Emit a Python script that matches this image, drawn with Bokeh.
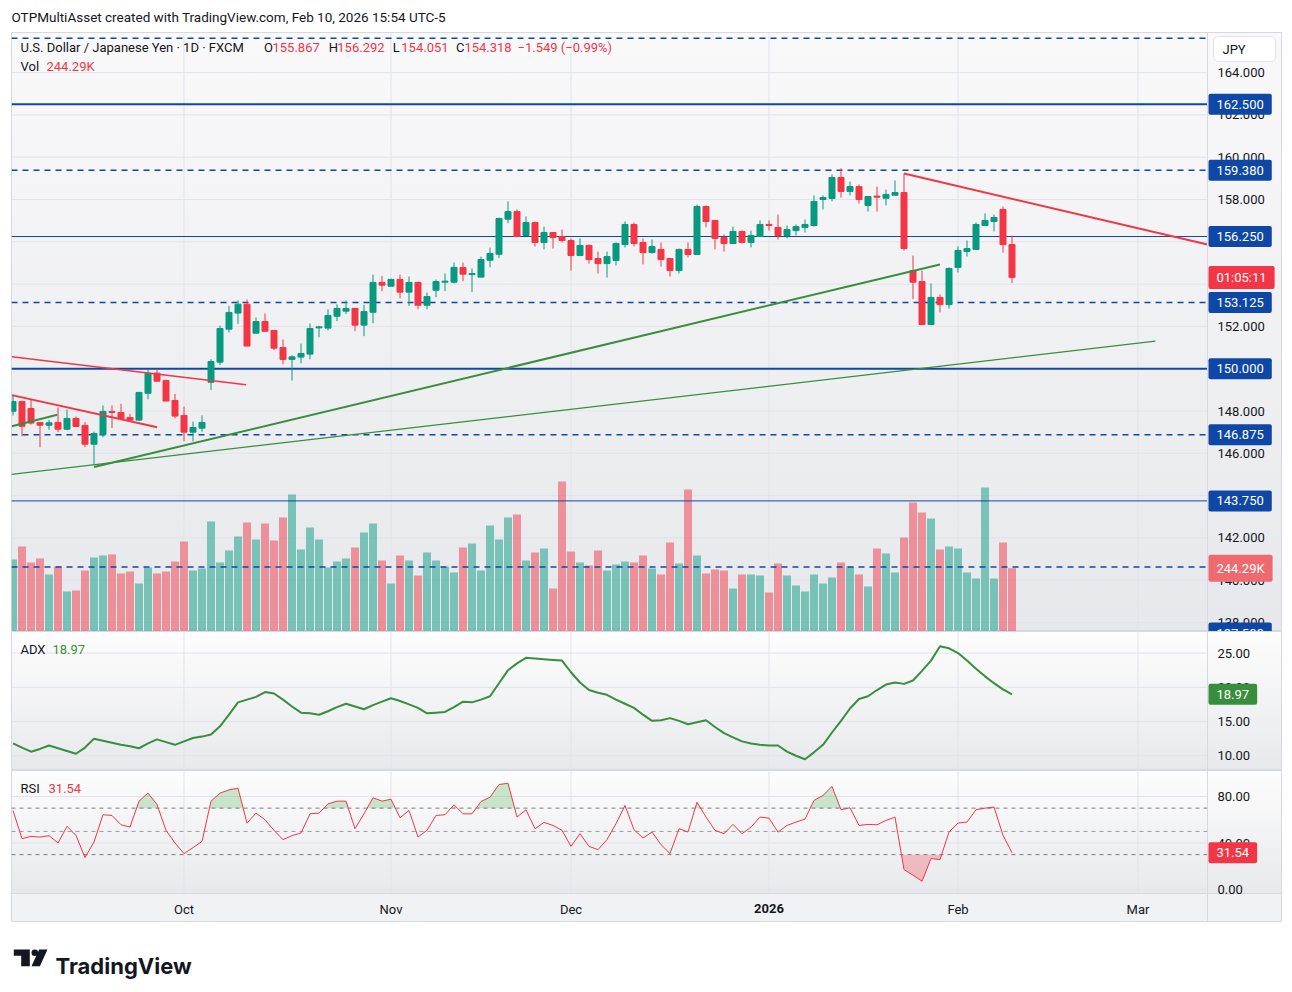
from bokeh.plotting import figure
from bokeh.layouts import column
from bokeh.models import (Range1d, FixedTicker, Label, ColumnDataSource,
                          NumeralTickFormatter, LinearAxis)
from bokeh.embed import file_html
from bokeh.resources import INLINE

# ---------------------------------------------------------------- data
# USD/JPY daily bars, Sep 4 2025 .. Feb 10 2026 (FXCM)
opens = [
    147.99, 148.45, 148.12, 147.46, 147.33, 147.46, 147.14, 147.65, 147.32, 146.43,
    146.90, 147.98, 147.93, 147.69, 147.57, 148.84, 149.79, 149.44, 148.50, 147.79,
    147.00, 147.19, 149.36, 150.31, 151.87, 152.63, 153.05, 151.68, 152.23, 151.81,
    151.00, 150.44, 150.55, 150.69, 151.93, 151.92, 152.48, 152.72, 152.85, 152.06,
    152.67, 154.08, 153.90, 154.22, 153.62, 154.08, 153.00, 153.71, 154.09, 154.09,
    154.78, 154.45, 154.33, 155.13, 155.41, 157.07, 157.43, 156.30, 156.91, 155.97,
    156.44, 156.25, 156.06, 155.35, 155.83, 155.21, 154.97, 155.12, 155.87, 156.82,
    155.97, 155.49, 155.64, 155.21, 154.64, 155.64, 155.40, 157.67, 157.01, 156.20,
    155.92, 156.49, 155.97, 156.25, 156.82, 156.68, 156.30, 156.53, 156.68, 156.77,
    158.00, 158.05, 159.04, 158.38, 158.61, 157.72, 158.16, 158.06, 158.20, 158.33,
    154.64, 154.12, 152.09, 153.37, 153.03, 154.79, 155.54, 155.64, 156.77, 156.96,
    157.53, 155.867]
highs = [
    148.73, 148.49, 148.53, 147.47, 147.58, 148.17, 148.07, 147.74, 147.47, 147.03,
    148.26, 148.26, 148.34, 147.87, 148.88, 149.95, 149.96, 149.49, 148.81, 148.21,
    147.50, 147.79, 150.45, 152.04, 152.97, 153.23, 153.27, 152.42, 152.61, 151.81,
    151.38, 150.64, 151.19, 152.14, 152.03, 152.81, 153.04, 153.22, 152.87, 153.02,
    154.45, 154.39, 154.26, 154.45, 154.36, 154.12, 153.60, 154.22, 154.50, 155.02,
    155.02, 154.74, 155.30, 155.73, 157.15, 157.91, 157.53, 157.20, 156.96, 156.72,
    156.44, 156.58, 156.16, 156.16, 155.87, 155.54, 155.54, 155.97, 156.96, 156.91,
    156.16, 156.11, 155.97, 155.21, 155.68, 155.97, 157.76, 157.72, 157.01, 156.35,
    156.72, 156.53, 156.53, 157.01, 157.01, 157.29, 156.77, 156.82, 157.05, 158.19,
    158.19, 159.18, 159.47, 158.85, 158.71, 158.14, 158.61, 158.47, 158.90, 159.23,
    155.35, 154.64, 154.03, 153.51, 154.79, 155.78, 156.06, 156.91, 157.34, 157.29,
    157.67, 156.292]
lows = [
    147.79, 146.81, 147.36, 146.29, 147.11, 147.00, 147.09, 147.24, 146.29, 145.47,
    146.76, 147.19, 147.60, 147.54, 147.52, 148.56, 149.41, 148.47, 147.66, 146.57,
    146.57, 147.02, 148.99, 150.17, 151.71, 152.12, 151.07, 151.68, 151.77, 150.88,
    150.21, 149.44, 150.26, 150.45, 151.49, 151.82, 152.25, 152.58, 151.77, 151.54,
    152.15, 153.67, 153.90, 153.33, 152.97, 152.81, 152.81, 153.38, 153.67, 154.03,
    154.14, 153.62, 154.33, 154.80, 155.23, 156.88, 156.22, 156.30, 155.78, 155.64,
    155.68, 155.97, 154.64, 155.35, 154.97, 154.50, 154.31, 154.88, 155.73, 155.78,
    154.93, 155.45, 154.83, 154.36, 154.50, 155.26, 155.40, 156.68, 155.64, 155.54,
    155.92, 155.92, 155.73, 156.25, 156.53, 156.11, 156.16, 156.30, 156.44, 156.72,
    157.53, 157.91, 158.09, 158.19, 157.81, 157.43, 157.43, 157.72, 158.20, 155.59,
    153.29, 152.09, 152.09, 152.66, 152.84, 154.55, 155.30, 155.64, 156.77, 156.49,
    155.49, 154.051]
closes = [
    148.45, 147.28, 147.43, 147.33, 147.44, 147.14, 147.65, 147.27, 146.43, 146.94,
    147.98, 147.93, 147.65, 147.57, 148.88, 149.79, 149.41, 148.47, 147.76, 147.00,
    147.22, 147.46, 150.34, 151.90, 152.66, 153.05, 151.07, 152.23, 151.77, 150.97,
    150.44, 150.56, 150.72, 151.90, 151.98, 152.52, 152.85, 152.85, 152.06, 152.70,
    154.08, 153.95, 154.22, 153.62, 154.08, 153.00, 153.41, 154.12, 154.14, 154.79,
    154.47, 154.50, 155.16, 155.45, 157.10, 157.43, 156.25, 156.91, 155.97, 156.44,
    156.20, 156.06, 155.35, 155.83, 155.16, 154.97, 155.30, 155.92, 156.82, 155.92,
    155.49, 155.78, 155.16, 154.64, 155.64, 155.40, 157.67, 156.96, 156.16, 155.92,
    156.49, 155.97, 156.30, 156.82, 156.77, 156.30, 156.58, 156.72, 156.82, 157.91,
    158.09, 159.04, 158.38, 158.61, 158.00, 158.14, 158.11, 158.24, 158.33, 155.68,
    154.09, 152.09, 153.37, 153.03, 154.74, 155.59, 155.68, 156.82, 157.01, 157.15,
    155.867, 154.318]
volume_k = [
    277.9, 328.0, 266.3, 281.7, 220.0, 250.8, 154.4, 158.2, 235.4, 285.6,
    293.3, 297.2, 223.8, 231.6, 185.2, 247.0, 223.8, 231.6, 270.1, 347.3,
    235.4, 243.1, 424.5, 266.3, 312.6, 366.6, 420.7, 355.0, 416.8, 351.2,
    440.0, 528.7, 316.5, 401.4, 355.0, 247.0, 270.1, 281.7, 324.2, 382.1,
    416.8, 274.0, 185.2, 293.3, 274.0, 216.1, 304.9, 274.0, 250.8, 227.7,
    324.2, 339.6, 235.4, 409.1, 355.0, 440.0, 451.5, 274.0, 304.9, 320.3,
    165.9, 578.9, 308.7, 266.3, 254.7, 312.6, 235.4, 258.6, 270.1, 266.3,
    293.3, 243.1, 220.0, 343.5, 262.4, 548.0, 293.3, 223.8, 239.3, 235.4,
    165.9, 220.0, 220.0, 216.1, 150.5, 262.4, 216.1, 177.5, 154.4, 220.0,
    185.2, 208.4, 266.3, 250.8, 220.0, 173.7, 320.3, 301.0, 227.7, 362.8,
    497.8, 459.2, 436.1, 316.5, 328.0, 320.3, 227.7, 204.5, 555.7, 204.5,
    343.5, 244.29]
adx_values = [
    11.8, 11.2, 10.6, 11.0, 11.5, 11.1, 10.7, 10.3, 11.2, 12.5,
    12.2, 11.9, 11.6, 11.4, 11.1, 11.8, 12.4, 12.0, 11.6, 12.1,
    12.6, 12.8, 13.1, 14.3, 16.0, 17.8, 18.2, 18.6, 19.3, 19.1,
    18.2, 17.2, 16.3, 16.2, 16.0, 16.5, 17.1, 17.6, 17.2, 16.8,
    17.4, 17.9, 18.4, 18.0, 17.5, 17.0, 16.2, 16.3, 16.4, 17.1,
    17.9, 17.8, 18.2, 18.7, 20.6, 22.5, 23.5, 24.3, 24.2, 24.1,
    24.0, 23.9, 22.2, 20.7, 19.6, 19.2, 18.9, 18.2, 17.6, 17.0,
    16.0, 15.1, 15.2, 15.5, 15.1, 14.6, 14.9, 15.2, 14.2, 13.3,
    12.7, 12.1, 11.8, 11.6, 11.5, 11.5, 10.6, 10.0, 9.5, 10.5,
    11.6, 13.4, 15.1, 16.9, 18.3, 18.7, 19.6, 20.4, 20.7, 20.5,
    21.0, 22.4, 23.9, 26.0, 25.7, 25.0, 23.9, 22.7, 21.6, 20.6,
    19.7, 18.97]
rsi_values = [
    68.0, 43.7, 45.7, 45.1, 46.3, 40.0, 54.3, 46.6, 27.4, 40.9,
    64.3, 63.7, 55.7, 53.7, 76.0, 82.9, 73.1, 50.9, 40.0, 30.9,
    36.0, 41.4, 76.0, 82.9, 85.7, 87.1, 57.1, 65.7, 60.0, 50.9,
    42.9, 46.3, 48.6, 65.1, 65.7, 73.7, 76.0, 76.0, 52.3, 65.1,
    78.9, 76.0, 77.7, 61.7, 68.0, 45.1, 50.9, 63.7, 64.3, 72.9,
    65.1, 65.1, 75.7, 79.4, 90.3, 91.4, 62.3, 68.6, 52.3, 57.7,
    55.1, 50.9, 37.1, 48.0, 37.1, 34.3, 42.9, 56.6, 72.3, 51.4,
    44.3, 49.4, 38.6, 30.9, 52.3, 49.4, 75.1, 62.3, 50.9, 48.0,
    56.0, 48.0, 53.7, 62.3, 61.4, 49.4, 55.1, 58.0, 60.6, 76.6,
    80.9, 88.6, 68.6, 70.3, 55.1, 56.0, 55.7, 59.4, 62.3, 17.1,
    12.3, 7.1, 26.6, 25.7, 49.4, 57.1, 58.0, 68.6, 70.0, 70.9,
    46.6, 31.54]

month_ticks = [19, 42, 62, 84, 105, 125]
month_labels = ["Oct", "Nov", "Dec", "2026", "Feb", "Mar"]
price_ticks = [138, 140, 142, 144, 146, 148, 150, 152, 154, 156, 158, 160, 162, 164]
adx_ticks = [10, 15, 20, 25]
rsi_ticks = [0, 40, 80]
rsi_levels = [70, 50, 30]

# horizontal price levels drawn on the chart
level_prices = [165.625, 162.5, 159.38, 156.25, 153.125, 150.0, 146.875, 143.75, 140.625, 137.5]
level_kind = ["dash", "bold", "dash", "thin", "dash", "bold", "dash", "thin", "dash", "thin"]
level_tagged = [False, True, True, True, True, True, True, True, False, True]

# trend lines: anchor points in (bar index, price)
trend_x0 = [99, 9, -0.17, -0.13, -0.13, -0.13]
trend_y0 = [159.23, 145.35, 145.00, 147.28, 148.75, 150.56]
trend_x1 = [132.72, 103, 126.94, 4.91, 16.02, 25.91]
trend_y1 = [155.87, 154.93, 151.30, 147.82, 147.23, 149.24]
trend_kind = ["red", "green", "green_thin", "green", "red", "red_thin"]

symbol_name = "U.S. Dollar / Japanese Yen \u00b7 1D \u00b7 FXCM"
countdown = "01:05:11"
last_volume_text = "244.29K"
header_text = "OTPMultiAsset created with TradingView.com, Feb 10, 2026 15:54 UTC-5"

# ---------------------------------------------------------------- style
W = 1292
FONT = "Roboto"
TEXT = "#131722"
GREEN = "#089981"
RED = "#F23645"
LINE_GREEN = "#388E3C"
LEVEL_BLUE = "#0F47A6"
GRID = "#e0e3eb"
BORDER = "#d6d9e0"

BAR_PX = 9.0          # horizontal spacing of daily bars
FIRST_BAR_PX = 12.5   # centre of the first bar on the page
FRAME_L, CHART_R_PX, FRAME_R = 11, 1207, 1281

x_start = (FRAME_L - FIRST_BAR_PX) / BAR_PX
x_end = (FRAME_R - FIRST_BAR_PX) / BAR_PX
CHART_R = (CHART_R_PX - FIRST_BAR_PX) / BAR_PX     # where the price scale column begins
shared_x = Range1d(x_start, x_end)

price_lo, price_hi = 137.575, 165.896
vol_hi = 2311.7
adx_lo, adx_hi = 7.85, 28.15
rsi_lo, rsi_hi = -27.53, 102.37


def bx(px):
    return (px - FIRST_BAR_PX) / BAR_PX


def price_at(py):
    return price_hi - (py - 32) / 599 * (price_hi - price_lo)


def adx_at(py):
    return adx_hi - (py - 631) / 139 * (adx_hi - adx_lo)


def rsi_at(py):
    return rsi_hi - (py - 770) / 151 * (rsi_hi - rsi_lo)


SIDE = "linear-gradient(to right, #ffffff 11px, transparent 11px, transparent 1281px, #ffffff 1281px)"


def pane(height, lo, hi, bg, ticks, fmt, grid_lo, bottom_border=0):
    f = figure(width=W, height=height, x_range=shared_x, y_range=Range1d(lo, hi),
               output_backend="svg", toolbar_location=None,
               x_axis_location=None, y_axis_location="right",
               min_border_left=FRAME_L, min_border_right=W - FRAME_R,
               min_border_top=0, min_border_bottom=bottom_border,
               background_fill_alpha=0, border_fill_alpha=0,
               outline_line_color=BORDER,
               styles={"background": SIDE + ", " + bg})
    f.grid.visible = False
    # grid lines stop at the price scale column
    f.segment(x0=[x_start] * len(ticks), y0=ticks, x1=[CHART_R] * len(ticks), y1=ticks,
              line_color=GRID, line_width=1)
    f.segment(x0=month_ticks, y0=[grid_lo] * len(month_ticks), x1=month_ticks,
              y1=[hi] * len(month_ticks), line_color=GRID, line_width=1)
    ax = f.yaxis[0]
    ax.fixed_location = CHART_R
    ax.ticker = FixedTicker(ticks=ticks)
    ax.formatter = NumeralTickFormatter(format=fmt)
    ax.axis_line_color = BORDER
    ax.major_tick_line_color = None
    ax.minor_tick_line_color = None
    ax.major_tick_out = 0
    ax.major_tick_in = 0
    ax.major_label_standoff = 10
    ax.major_label_text_font = FONT
    ax.major_label_text_font_size = "13px"
    ax.major_label_text_color = TEXT
    return f


def tag(fig, y, text, fill, y_range_name="default", vpad=6):
    # padding: (horizontal, vertical)
    fig.add_layout(Label(x=CHART_R, y=y, y_range_name=y_range_name, text=text, x_offset=1,
                         anchor="center_left", text_font=FONT, text_font_size="13px",
                         text_color="#ffffff", background_fill_color=fill,
                         border_radius=2, padding=(8, vpad)))


def txt(fig, x, y, text, color, size="13px", style="normal", align="left"):
    fig.add_layout(Label(x=x, y=y, text=text, text_color=color, text_font=FONT,
                         text_font_size=size, text_font_style=style,
                         text_align=align, text_baseline="middle"))


def plain(height):
    f = figure(width=W, height=height, x_range=Range1d(0, W), y_range=Range1d(height, 0),
               output_backend="svg", toolbar_location=None,
               x_axis_location=None, y_axis_location=None,
               min_border=0, min_border_left=0, min_border_right=0,
               min_border_top=0, min_border_bottom=0, frame_align=False,
               outline_line_color=None,
               background_fill_color="#ffffff", border_fill_color="#ffffff")
    f.grid.visible = False
    return f


# ---------------------------------------------------------------- header
header = plain(32)
header.add_layout(Label(x=11, y=16, text=header_text, text_color=TEXT, text_font=FONT,
                        text_font_size="13.5px", text_baseline="middle"))

# ---------------------------------------------------------------- price pane
price = pane(599, price_lo, price_hi,
             "linear-gradient(to bottom, #f9f9fa 0px, #e7e8eb 599px)",
             price_ticks, "0.000", price_lo)
price.extra_y_ranges = {"vol": Range1d(0, vol_hi)}

idx = list(range(len(opens)))
colors = [GREEN if c >= o else RED for o, c in zip(opens, closes)]
src = ColumnDataSource(dict(
    x=idx, high=highs, low=lows,
    top=[max(o, c) for o, c in zip(opens, closes)],
    bottom=[min(o, c) for o, c in zip(opens, closes)],
    color=colors, vol=volume_k))

price.vbar(x="x", width=8 / 9, top="vol", bottom=0, y_range_name="vol", source=src,
           fill_color="color", fill_alpha=0.5, line_color=None)

level_style = {"dash": (1.5, "6 5"), "bold": (2.0, "solid"), "thin": (1.0, "solid")}
for lvl, kind in zip(level_prices, level_kind):
    lw, dash = level_style[kind]
    price.segment(x0=[x_start], y0=[lvl], x1=[CHART_R], y1=[lvl],
                  line_color=LEVEL_BLUE, line_width=lw, line_dash=dash)

price.segment(x0="x", y0="low", x1="x", y1="high", line_color="color", line_width=1, source=src)
price.vbar(x="x", width=6 / 9, top="top", bottom="bottom", source=src,
           fill_color="color", line_color="color", line_width=1)

trend_style = {"red": (RED, 2.0), "red_thin": (RED, 1.5),
               "green": (LINE_GREEN, 2.0), "green_thin": (LINE_GREEN, 1.2)}
tsrc = ColumnDataSource(dict(
    x0=trend_x0, y0=trend_y0, x1=trend_x1, y1=trend_y1,
    color=[trend_style[k][0] for k in trend_kind],
    width=[trend_style[k][1] for k in trend_kind]))
price.segment(x0="x0", y0="y0", x1="x1", y1="y1", line_color="color",
              line_width="width", source=tsrc)

# legend
row1, row2 = price_at(47), price_at(66)
txt(price, bx(20), row1, symbol_name, TEXT)
o_, h_, l_, c_ = opens[-1], highs[-1], lows[-1], closes[-1]
chg = c_ - closes[-2]
pct = chg / closes[-2] * 100
for letter, val, lx in [("O", o_, 263.5), ("H", h_, 328.3), ("L", l_, 392.3), ("C", c_, 455.4)]:
    txt(price, bx(lx), row1, letter, TEXT)
    txt(price, bx(lx + 8.5), row1, f"{val:.3f}", RED)
txt(price, bx(517), row1, f"\u2212{abs(chg):.3f} (\u2212{abs(pct):.2f}%)", RED)
txt(price, bx(20), row2, "Vol", TEXT)
txt(price, bx(46), row2, last_volume_text, RED)

# price scale tags
for lvl, tagged in zip(level_prices, level_tagged):
    if tagged:
        tag(price, lvl, f"{lvl:.3f}", LEVEL_BLUE)
tag(price, closes[-1], countdown, RED, vpad=4)
tag(price, volume_k[-1], last_volume_text, "#EF6A6F", y_range_name="vol")
# padding: (left, right, top, bottom)
price.add_layout(Label(x=CHART_R, y=price_at(36), text="JPY", x_offset=6,
                       anchor="top_left", text_font=FONT, text_font_size="13px",
                       text_color=TEXT, background_fill_color="#ffffff",
                       border_line_color=GRID, border_radius=5,
                       padding=(9, 30, 5, 5)))

# ---------------------------------------------------------------- ADX pane
adx = pane(139, adx_lo, adx_hi,
           "linear-gradient(to bottom, #fdfdfd 0px, #e8e9ec 139px)",
           adx_ticks, "0.00", adx_lo)
adx.line(idx, adx_values, line_color=LINE_GREEN, line_width=2)
txt(adx, bx(20), adx_at(649), "ADX", TEXT)
txt(adx, bx(52), adx_at(649), f"{adx_values[-1]:.2f}", LINE_GREEN)
tag(adx, adx_values[-1], f"{adx_values[-1]:.2f}", LINE_GREEN)

# ---------------------------------------------------------------- RSI pane + time scale
rsi_floor = rsi_at(893)
rsi = pane(152, rsi_lo, rsi_hi,
           "linear-gradient(to bottom, #fdfdfd 0px, #e8e9ec 123px, #f1f2f4 123px, "
           "#f1f2f4 151px, #ffffff 151px)",
           rsi_ticks, "0.00", rsi_floor, bottom_border=1)


def zone(vals, level, above):
    xs, ys = [], []
    for i, v in enumerate(vals):
        if i > 0:
            pv = vals[i - 1]
            if (pv - level) * (v - level) < 0:
                xs.append(i - 1 + (level - pv) / (v - pv))
                ys.append(level)
        xs.append(i)
        ys.append(max(v, level) if above else min(v, level))
    return xs, ys


zx, zy = zone(rsi_values, 70, True)
rsi.varea(x=zx, y1=[70] * len(zx), y2=zy, fill_color="#4CAF50", fill_alpha=0.28)
zx, zy = zone(rsi_values, 30, False)
rsi.varea(x=zx, y1=[30] * len(zx), y2=zy, fill_color="#F23645", fill_alpha=0.28)
for lvl in rsi_levels:
    rsi.segment(x0=[x_start], y0=[lvl], x1=[CHART_R], y1=[lvl],
                line_color="#787b86" if lvl != 50 else "#9598a1",
                line_width=1, line_dash="4 4")
rsi.line(idx, rsi_values, line_color=RED, line_width=1)
txt(rsi, bx(20), rsi_at(788), "RSI", TEXT)
txt(rsi, bx(48), rsi_at(788), f"{rsi_values[-1]:.2f}", RED)
tag(rsi, rsi_values[-1], f"{rsi_values[-1]:.2f}", RED)

# time scale along the bottom of the RSI pane
xa = LinearAxis(fixed_location=rsi_floor)
rsi.add_layout(xa, "below")
xa.ticker = FixedTicker(ticks=month_ticks)
xa.major_label_overrides = {t: ("" if lab == "2026" else lab)
                            for t, lab in zip(month_ticks, month_labels)}
xa.axis_line_color = BORDER
xa.major_tick_line_color = None
xa.minor_tick_line_color = None
xa.major_tick_out = 0
xa.major_tick_in = 0
xa.major_label_standoff = 8
xa.major_label_text_font = FONT
xa.major_label_text_font_size = "13px"
xa.major_label_text_color = TEXT
for t, lab in zip(month_ticks, month_labels):
    if lab == "2026":
        rsi.add_layout(Label(x=t, y=rsi_at(908), text=lab, text_color=TEXT, text_font=FONT,
                             text_font_size="13px", text_font_style="bold",
                             text_align="center", text_baseline="middle"))

# ---------------------------------------------------------------- footer / logo
footer = plain(70)
footer.patches(xs=[[13.3, 29.3, 29.3, 20.7, 20.7, 13.3], [38.6, 47.0, 39.4, 31.0]],
               ys=[[27, 27, 43.7, 43.7, 33.2, 33.2], [27, 27, 43.7, 43.7]],
               fill_color=TEXT, line_color=None)
footer.scatter(x=[34.3], y=[30.3], size=6.6, marker="circle", fill_color=TEXT, line_color=None)
footer.add_layout(Label(x=55, y=43.7, text="TradingView", text_color=TEXT, text_font="Inter",
                        text_font_size="22px", text_font_style="bold",
                        text_baseline="alphabetic"))

layout = column(header, price, adx, rsi, footer, spacing=0)
open("out.html", "w").write(file_html(layout, INLINE, title="USDJPY daily"))
